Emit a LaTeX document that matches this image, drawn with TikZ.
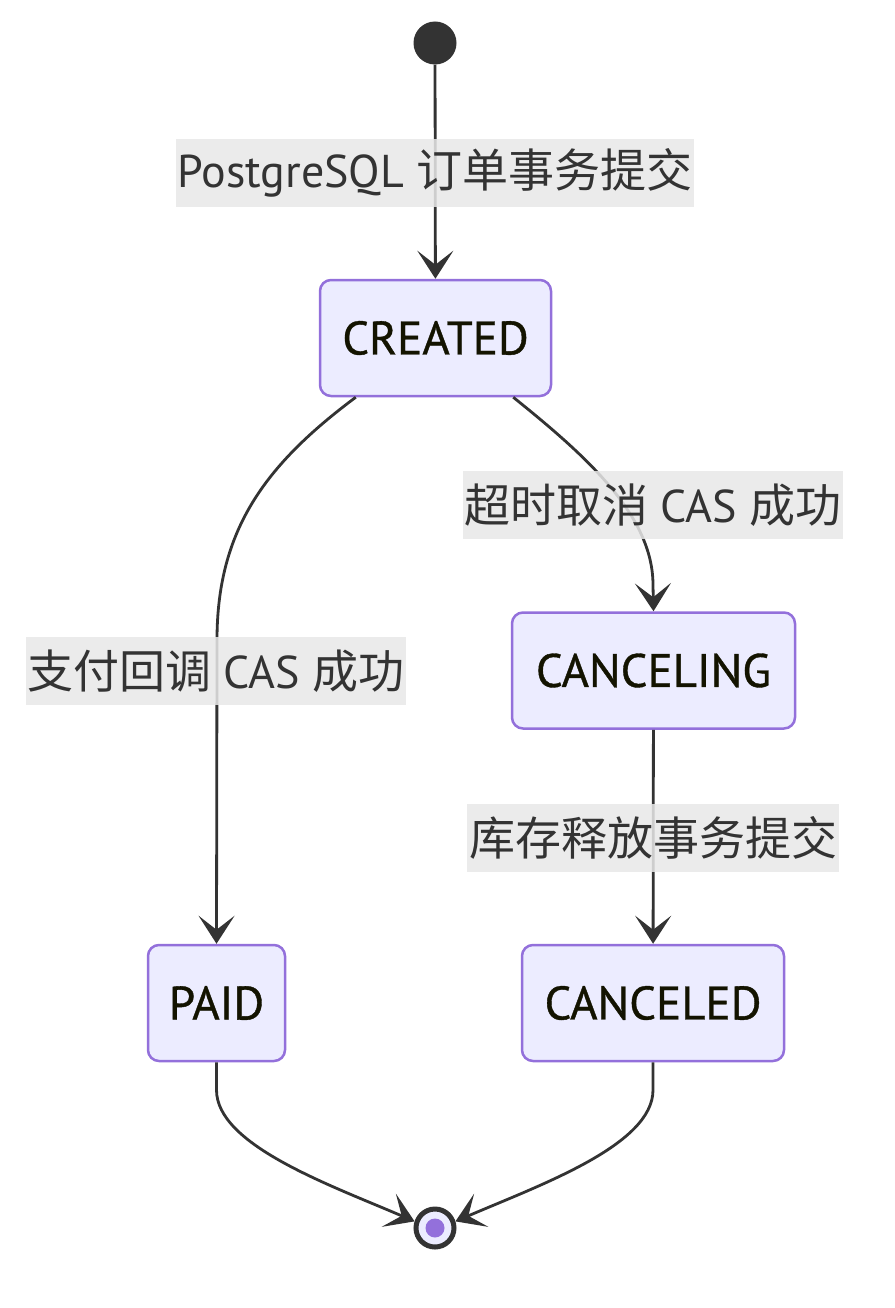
\documentclass[tikz,border=0pt]{standalone}
\usepackage{fontspec}
\setmainfont{PT Sans}
\newfontfamily\cjk{Noto Sans CJK SC}
\usetikzlibrary{arrows.meta,calc}
\definecolor{nodefill}{HTML}{ECECFF}
\definecolor{nodeborder}{HTML}{9370DB}
\definecolor{edgecol}{HTML}{333333}
\definecolor{labelbg}{HTML}{E8E8E8}
\definecolor{nodetext}{HTML}{131300}
\begin{document}
\begin{tikzpicture}[x=1pt,y=-1pt,
  state/.style={draw=nodeborder,fill=nodefill,line width=2.5pt,rounded corners=11pt,
    minimum height=116pt,inner sep=0pt,text=nodetext,font=\fontsize{47}{52}\selectfont\addfontfeature{FakeBold=0.8}},
  elabel/.style={fill=labelbg,fill opacity=0.85,text opacity=1,text=edgecol,inner xsep=2pt,
    minimum height=68pt,inner ysep=0pt,font=\fontsize{46}{52}\selectfont},
  edge/.style={draw=edgecol,line width=2.8pt,-{Stealth[length=28pt,width=36pt,inset=14pt]}}]
\useasboundingbox (0,0) rectangle (894,1308);
% nodes
\node[circle,fill=edgecol,minimum size=43pt,inner sep=0pt] (start) at (435,43) {};
\node[state,minimum width=231pt] (created) at (435.5,338) {CREATED};
\node[state,minimum width=283pt] (canceling) at (653.5,670.5) {CANCELING};
\node[state,minimum width=137pt] (paid) at (216.5,1003) {PAID};
\node[state,minimum width=262pt] (canceled) at (653,1003) {CANCELED};
\node[circle,draw=edgecol,line width=5pt,fill=nodefill,minimum size=38pt,inner sep=0pt] (end) at (435,1228) {};
\node[circle,fill=nodeborder,minimum size=19pt,inner sep=0pt] (enddot) at (end.center) {};
% edges
\draw[edge] (start) -- (created);
\draw[edge] ([xshift=37pt]created.south west) .. controls (265,465) and (217,530) .. (217,640) -- (paid.north);
\draw[edge] ([xshift=-39pt]created.south east) .. controls (585,455) and (653,515) .. (653,585) -- (canceling.north);
\draw[edge] (canceling) -- (canceled);
\draw[edge] (paid.south) -- (216.5,1090) .. controls (216.5,1145) and (330,1185) .. (end.162);
\draw[edge] (canceled.south) -- (653,1090) .. controls (653,1145) and (540,1185) .. (end.18);
% labels
\node[elabel] (l1) at (435,173) {PostgreSQL {\cjk 订单事务提交}};
\node[elabel] (l2) at (216,671) {{\cjk 支付回调} CAS {\cjk 成功}};
\node[elabel] (l3) at (653,505) {{\cjk 超时取消} CAS {\cjk 成功}};
\node[elabel] (l4) at (653,838) {{\cjk 库存释放事务提交}};
\end{tikzpicture}
\end{document}
